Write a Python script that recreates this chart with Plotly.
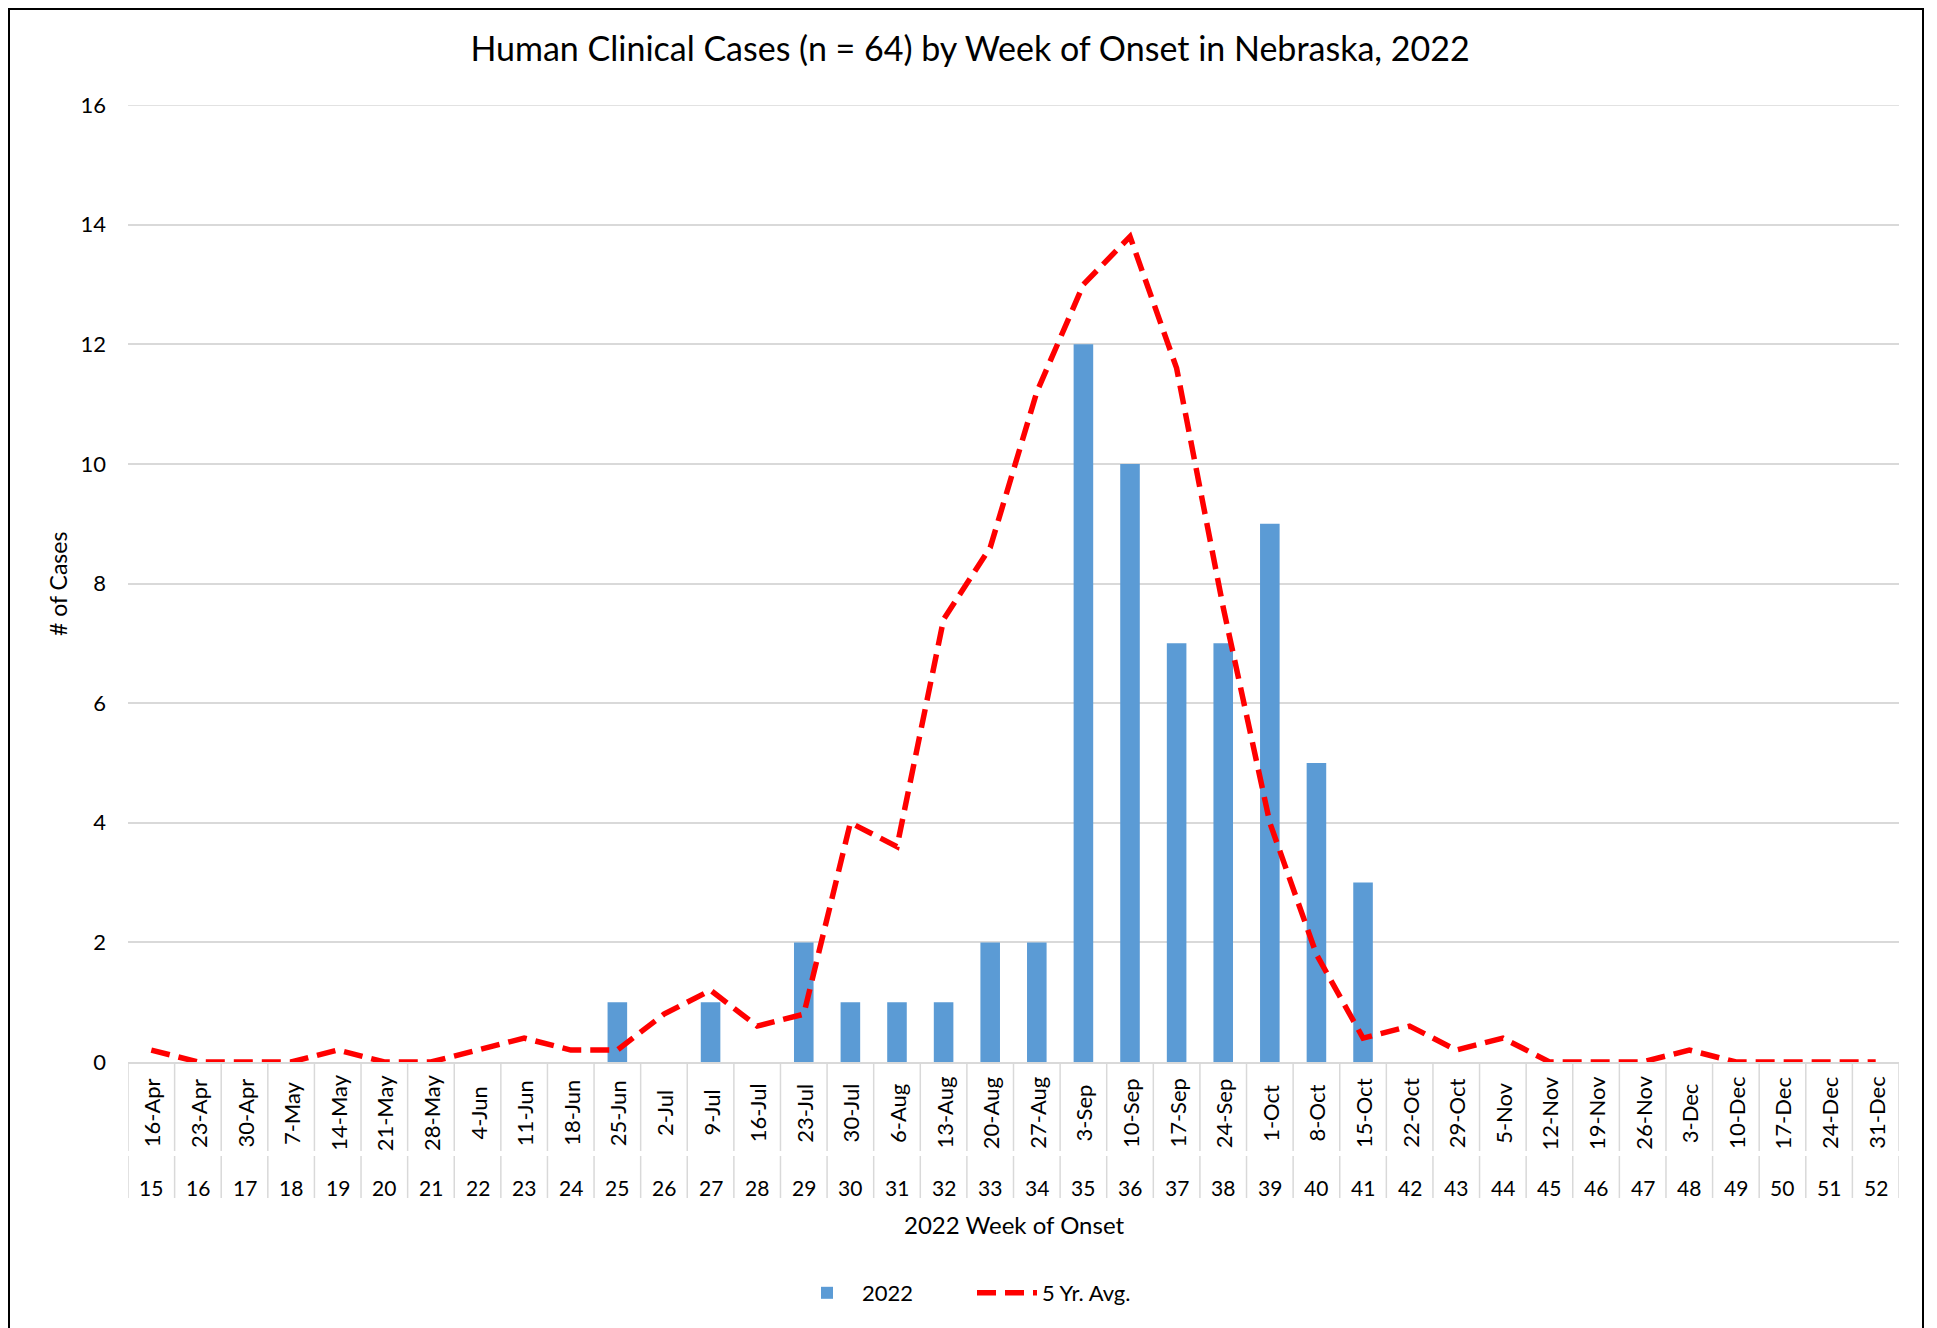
import plotly.graph_objects as go

weeks = list(range(15, 53))
dates = ["16-Apr", "23-Apr", "30-Apr", "7-May", "14-May", "21-May", "28-May", "4-Jun",
         "11-Jun", "18-Jun", "25-Jun", "2-Jul", "9-Jul", "16-Jul", "23-Jul", "30-Jul",
         "6-Aug", "13-Aug", "20-Aug", "27-Aug", "3-Sep", "10-Sep", "17-Sep", "24-Sep",
         "1-Oct", "8-Oct", "15-Oct", "22-Oct", "29-Oct", "5-Nov", "12-Nov", "19-Nov",
         "26-Nov", "3-Dec", "10-Dec", "17-Dec", "24-Dec", "31-Dec"]
cases_2022 = [0, 0, 0, 0, 0, 0, 0, 0, 0, 0, 1, 0, 1, 0, 2, 1, 1, 1, 2, 2, 12, 10, 7, 7,
              9, 5, 3, 0, 0, 0, 0, 0, 0, 0, 0, 0, 0, 0]
avg_5yr = [0.2, 0, 0, 0, 0.2, 0, 0, 0.2, 0.4, 0.2, 0.2, 0.8, 1.2, 0.6, 0.8, 4.0, 3.6,
           7.4, 8.6, 11.2, 13.0, 13.8, 11.6, 7.6, 4.0, 1.8, 0.4, 0.6, 0.2, 0.4, 0, 0, 0,
           0.2, 0, 0, 0, 0]
y_ticks = [0, 2, 4, 6, 8, 10, 12, 14, 16]

FONT = "Lato"
OFF = 8  # default body margin of the html page
W, H = 1937 - OFF, 1328 - OFF
# target plot area in screen pixels
SL, SR, ST, SB = 128, 1899, 105, 1062
ML, MT = SL - OFF, ST - OFF
MR = W - (SR - OFF)
MB = H - (SB - OFF)
PH = SB - ST
PW = SR - SL


def py(pix):
    return (SB - pix) / PH


def px(pix):
    return (pix - SL) / PW


xpos = list(range(len(weeks)))

fig = go.Figure()
fig.add_trace(go.Bar(x=xpos, y=cases_2022, name="2022", marker_color="#5b9bd5",
                     width=0.42, marker_line_width=0))
fig.add_trace(go.Scatter(x=xpos, y=avg_5yr, name="5 Yr. Avg.", mode="lines",
                         line=dict(color="#ff0000", width=5.5, dash="19px,9px")))

annotations = []
for i, (d, w) in enumerate(zip(dates, weeks)):
    annotations.append(dict(x=i, y=py(1113), xref="x", yref="paper", text=d, textangle=-90,
                            showarrow=False, xanchor="center", yanchor="middle",
                            font=dict(family=FONT, size=22, color="#000")))
    annotations.append(dict(x=i, y=py(1187), xref="x", yref="paper", text=str(w),
                            showarrow=False, xanchor="center", yanchor="middle",
                            font=dict(family=FONT, size=21, color="#000")))
annotations.append(dict(x=px(1014), y=py(1224), xref="paper", yref="paper",
                        text="2022 Week of Onset", showarrow=False, xanchor="center",
                        yanchor="middle", font=dict(family=FONT, size=24, color="#000")))
annotations.append(dict(x=px(58), y=py(584), xref="paper", yref="paper", text="# of Cases",
                        textangle=-90, showarrow=False, xanchor="center", yanchor="middle",
                        font=dict(family=FONT, size=23, color="#000")))

shapes = []
for i in range(len(weeks) + 1):
    shapes.append(dict(type="line", xref="x", yref="paper", x0=i - 0.5, x1=i - 0.5,
                       y0=0, y1=py(1151), line=dict(color="#d9d9d9", width=1.5)))
    shapes.append(dict(type="line", xref="x", yref="paper", x0=i - 0.5, x1=i - 0.5,
                       y0=py(1156), y1=py(1198), line=dict(color="#d9d9d9", width=1.5)))
shapes.append(dict(type="line", xref="paper", yref="y", x0=0, x1=1,
                   y0=y_ticks[-1], y1=y_ticks[-1], line=dict(color="#d9d9d9", width=1.5),
                   layer="below"))
shapes.append(dict(type="rect", xref="paper", yref="paper", x0=px(9), x1=px(1923),
                   y0=py(1345), y1=py(9), line=dict(color="#000", width=2),
                   fillcolor="rgba(0,0,0,0)", layer="below"))

fig.update_layout(
    width=W, height=H,
    margin=dict(l=ML, r=MR, t=MT, b=MB, autoexpand=False),
    paper_bgcolor="white", plot_bgcolor="white",
    font=dict(family=FONT, size=21, color="#000"),
    title=dict(text="Human Clinical Cases (n = 64) by Week of Onset in Nebraska, 2022",
               x=(970 - OFF) / W, xref="container", xanchor="center",
               y=1 - (49 - OFF) / H, yref="container",
               yanchor="middle", font=dict(family=FONT, size=34, color="#000")),
    xaxis=dict(range=[-0.5, len(weeks) - 0.5], showticklabels=False, showgrid=False,
               zeroline=False, showline=True, linecolor="#d9d9d9", linewidth=1.5, ticks=""),
    yaxis=dict(range=[0, 16], tickvals=y_ticks, showgrid=True, gridcolor="#d9d9d9",
               gridwidth=1.5, zeroline=False, showline=False, ticks="",
               ticklabelstandoff=21, tickfont=dict(family=FONT, size=22, color="#000")),
    legend=dict(orientation="h", xref="paper", x=px(972), xanchor="center",
                yref="paper", y=py(1293), yanchor="middle", entrywidth=105,
                font=dict(family=FONT, size=22, color="#000"), itemwidth=60),
    annotations=annotations,
    shapes=shapes,
    bargap=0.5,
)

fig.write_html("out.html")
